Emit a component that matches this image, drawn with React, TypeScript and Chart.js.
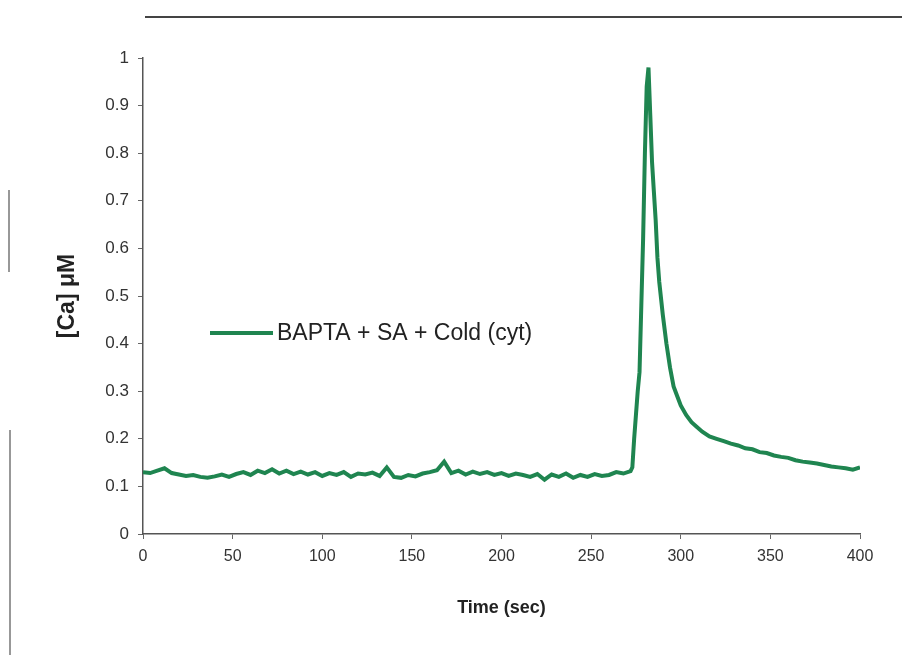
import React, { useEffect, useRef } from "react";
import { Chart, registerables } from "chart.js";

Chart.register(...registerables);

const seriesLabel = "BAPTA + SA + Cold (cyt)";
const xTitle = "Time (sec)";
const yTitle = "[Ca] \u03bcM";

const times = [
  0, 4, 8, 12, 16, 20, 24, 28, 32, 36, 40, 44, 48, 52, 56, 60, 64, 68, 72, 76, 80, 84, 88, 92, 96,
  100, 104, 108, 112, 116, 120, 124, 128, 132, 136, 140, 144, 148, 152, 156, 160, 164, 168, 172, 176,
  180, 184, 188, 192, 196, 200, 204, 208, 212, 216, 220, 224, 228, 232, 236, 240, 244, 248, 252, 256,
  260, 264, 268, 272, 273, 274, 275, 276, 277, 278, 279, 280, 281, 282, 283, 284, 285, 286, 287, 288,
  290, 292, 294, 296, 298, 300, 303, 306, 309, 312, 316, 320, 324, 328, 332, 336, 340, 344, 348, 352,
  356, 360, 364, 368, 372, 376, 380, 384, 388, 392, 396, 400,
];

const calcium = [
  0.13, 0.128, 0.133, 0.138, 0.128, 0.125, 0.122, 0.124, 0.12, 0.118, 0.121, 0.125, 0.12, 0.126, 0.13,
  0.124, 0.133, 0.128, 0.136, 0.127, 0.133, 0.126, 0.131, 0.125, 0.13, 0.122, 0.128, 0.124, 0.13,
  0.12, 0.127, 0.125, 0.129, 0.122, 0.14, 0.12, 0.118, 0.124, 0.121, 0.127, 0.13, 0.134, 0.152, 0.128,
  0.133, 0.125, 0.131, 0.126, 0.13, 0.124, 0.128, 0.122, 0.127, 0.124, 0.12, 0.126, 0.114, 0.125,
  0.12, 0.127, 0.118, 0.124, 0.12, 0.126, 0.122, 0.124, 0.13, 0.127, 0.132, 0.14, 0.2, 0.25, 0.3,
  0.34, 0.48, 0.62, 0.8, 0.94, 0.98, 0.88, 0.78, 0.72, 0.66, 0.58, 0.53, 0.46, 0.4, 0.35, 0.31, 0.29,
  0.27, 0.25, 0.235, 0.225, 0.215, 0.205, 0.2, 0.195, 0.19, 0.186, 0.18, 0.178, 0.172, 0.17, 0.165,
  0.162, 0.16, 0.155, 0.152, 0.15, 0.148, 0.145, 0.142, 0.14, 0.138, 0.135, 0.14,
];

const lineColor = "#1f8550";
const textColor = "#333333";

export default function App() {
  const ref = useRef<HTMLCanvasElement | null>(null);

  useEffect(() => {
    document.body.style.margin = "0";
    if (!ref.current) return;

    const legendPlugin = {
      id: "insideLegend",
      afterDraw(chart: any) {
        const { ctx, chartArea } = chart;
        ctx.save();
        const y = chartArea.top + 275;
        const x0 = chartArea.left + 67;
        ctx.strokeStyle = lineColor;
        ctx.lineWidth = 4;
        ctx.beginPath();
        ctx.moveTo(x0, y);
        ctx.lineTo(x0 + 63, y);
        ctx.stroke();
        ctx.fillStyle = "#222222";
        ctx.font = "23px 'Liberation Sans', Arial, sans-serif";
        ctx.textBaseline = "middle";
        ctx.textAlign = "left";
        ctx.fillText(seriesLabel, x0 + 67, y + 1);
        // scanned frame lines
        ctx.strokeStyle = "#444444";
        ctx.lineWidth = 2;
        ctx.beginPath();
        ctx.moveTo(chartArea.left + 2, 17);
        ctx.lineTo(902, 17);
        ctx.stroke();
        ctx.lineWidth = 1.5;
        ctx.strokeStyle = "#777777";
        ctx.beginPath();
        ctx.moveTo(9, 190);
        ctx.lineTo(9, 272);
        ctx.moveTo(10, 430);
        ctx.lineTo(10, 655);
        ctx.stroke();
        ctx.restore();
      },
    };

    const chart = new Chart(ref.current, {
      type: "line",
      data: {
        datasets: [
          {
            label: seriesLabel,
            data: times.map((t, i) => ({ x: t, y: calcium[i] })),
            borderColor: lineColor,
            borderWidth: 4,
            pointRadius: 0,
            tension: 0,
            fill: false,
          },
        ],
      },
      options: {
        animation: false,
        responsive: true,
        maintainAspectRatio: false,
        layout: { padding: { top: 58, right: 42, left: 0, bottom: 0 } },
        plugins: {
          legend: { display: false },
          tooltip: { enabled: false },
        },
        scales: {
          x: {
            type: "linear",
            min: 0,
            max: 400,
            afterFit: (s: any) => {
              s.height = 121;
            },
            grid: {
              display: true,
              drawOnChartArea: false,
              drawTicks: true,
              tickLength: 5,
              color: "#666666",
            },
            border: { display: true, color: "#555555", width: 1.5 },
            ticks: {
              stepSize: 50,
              color: textColor,
              padding: 8,
              maxRotation: 0,
              font: { family: "'Liberation Sans', Arial, sans-serif", size: 16 },
            },
            title: {
              display: true,
              text: xTitle,
              color: "#222222",
              padding: { top: 0, bottom: 36 },
              font: { family: "'Liberation Sans', Arial, sans-serif", size: 18, weight: "bold" },
            },
          },
          y: {
            min: 0,
            max: 1,
            afterFit: (s: any) => {
              s.width = 143;
            },
            grid: {
              display: true,
              drawOnChartArea: false,
              drawTicks: true,
              tickLength: 5,
              color: "#666666",
            },
            border: { display: true, color: "#555555", width: 1.5 },
            ticks: {
              stepSize: 0.1,
              color: textColor,
              padding: 9,
              font: { family: "'Liberation Sans', Arial, sans-serif", size: 17 },
              callback: (v: any) => String(Math.round(Number(v) * 10) / 10),
            },
            title: {
              display: true,
              text: yTitle,
              color: "#222222",
              padding: { top: 54, bottom: 0 },
              font: { family: "'Liberation Sans', Arial, sans-serif", size: 23, weight: "bold" },
            },
          },
        },
      },
      plugins: [legendPlugin],
    });

    return () => chart.destroy();
  }, []);

  return (
    <div style={{ width: 902, height: 655, position: "relative", background: "#ffffff" }}>
      <canvas ref={ref} />
    </div>
  );
}
